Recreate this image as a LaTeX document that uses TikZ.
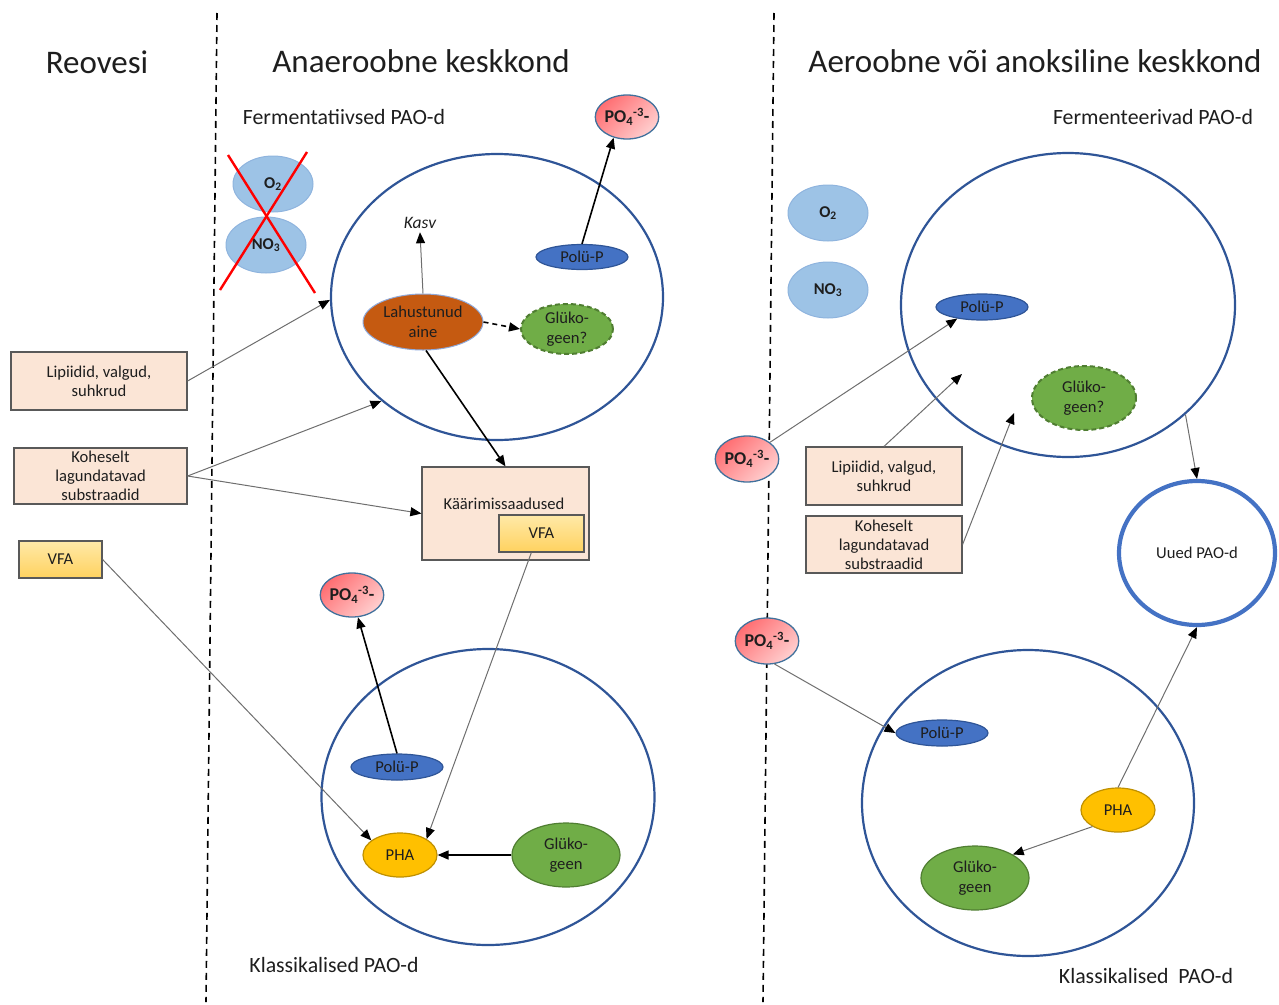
\documentclass[tikz,border=0pt]{standalone}
\usepackage{fontspec}
\setmainfont{Carlito}
\usetikzlibrary{shapes.geometric,arrows.meta}
\definecolor{txt}{HTML}{1E1E1E}
\definecolor{circblue}{HTML}{2F5597}
\definecolor{uuedblue}{HTML}{4472C4}
\definecolor{gasfill}{HTML}{9DC3E6}
\definecolor{gasdraw}{HTML}{8FB4DE}
\definecolor{podraw}{HTML}{41719C}
\definecolor{pored}{HTML}{FF6E72}
\definecolor{popink}{HTML}{FFCFCF}
\definecolor{polufill}{HTML}{4472C4}
\definecolor{glufill}{HTML}{70AD47}
\definecolor{gludraw}{HTML}{507E32}
\definecolor{lahfill}{HTML}{C55A11}
\definecolor{lahdraw}{HTML}{8FAADC}
\definecolor{phafill}{HTML}{FFC000}
\definecolor{phadraw}{HTML}{BF9000}
\definecolor{boxfill}{HTML}{FBE5D6}
\definecolor{boxdraw}{HTML}{595959}
\definecolor{vfatop}{HTML}{FFE9A8}
\definecolor{vfabot}{HTML}{FFD25F}
\definecolor{arrgray}{HTML}{6E6E6E}
\begin{document}
\begin{tikzpicture}[x=1pt,y=-1pt,
  every node/.style={text=txt, font=\fontsize{16.6}{19}\selectfont, align=center},
  title/.style={font=\fontsize{33}{38}\selectfont},
  subtitle/.style={font=\fontsize{21.8}{25}\selectfont},
  cell/.style={ellipse, draw=circblue, line width=2.2, inner sep=0},
  gas/.style={ellipse, fill=gasfill, draw=gasdraw, line width=1, inner sep=0,
    minimum width=80, minimum height=56, font=\bfseries\fontsize{16.5}{18}\selectfont},
  po/.style={ellipse, draw=podraw, line width=1.3, top color=pored, bottom color=popink,
    shading angle=45, inner sep=0, minimum width=56, minimum height=44,
    font=\bfseries\fontsize{18}{20}\selectfont},
  polu/.style={ellipse, fill=polufill, draw=circblue, line width=1.2, inner sep=0,
    minimum width=92, minimum height=25},
  glu/.style={ellipse, fill=glufill, draw=gludraw, line width=1.2, inner sep=0,
    minimum width=108, minimum height=64, font=\fontsize{16.6}{19.5}\selectfont},
  gluq/.style={glu, line width=2, dash pattern=on 5 off 3,
    minimum width=92, minimum height=50},
  pha/.style={ellipse, fill=phafill, draw=phadraw, line width=1.2, inner sep=0,
    minimum width=74, minimum height=44},
  box/.style={rectangle, fill=boxfill, draw=boxdraw, line width=1.2, inner sep=0,
    font=\fontsize{16.6}{19}\selectfont},
  vfabox/.style={rectangle, top color=vfatop, bottom color=vfabot, draw=boxdraw,
    line width=1.2, inner sep=0},
  thinarr/.style={draw=arrgray, line width=1, -{Triangle[length=11,width=9,color=black]}},
  thickarr/.style={draw=black, line width=1.6, -{Triangle[length=11,width=9]}},
  sep/.style={draw=black, line width=1.6, dash pattern=on 7 off 5},
  cross/.style={draw=red, line width=2.4}
]
\useasboundingbox (0,0) rectangle (1279,1004);

% separators
\coordinate (s1t) at (217,13); \coordinate (s1b) at (206,1002);
\coordinate (s2t) at (774,13); \coordinate (s2b) at (763,1002);
\draw[sep] (s1t) -- (s1b);
\draw[sep] (s2t) -- (s2b);

% titles
\node[title] (t1) at (97,62) {Reovesi};
\node[title] (t2) at (421,61) {Anaeroobne keskkond};
\node[title] (t3) at (1035,61) {Aeroobne või anoksiline keskkond};
\node[subtitle] (st1) at (344,117) {Fermentatiivsed PAO-d};
\node[subtitle] (st2) at (1153,117) {Fermenteerivad PAO-d};
\node[subtitle] (st3) at (334,965) {Klassikalised PAO-d};
\node[subtitle] (st4) at (1146,976) {Klassikalised\ \ PAO-d};

% cells
\node[cell, minimum width=332, minimum height=286] (c1) at (497,297) {};
\node[cell, minimum width=333, minimum height=296] (c2) at (488,797) {};
\node[cell, minimum width=334, minimum height=304] (c3) at (1068,305) {};
\node[cell, minimum width=332, minimum height=306] (c4) at (1028,803) {};
\node[ellipse, draw=uuedblue, line width=4.2, inner sep=0, minimum width=156, minimum height=144] (uued) at (1197,553) {Uued PAO-d};

% gases
\node[gas] (o2a) at (273,184) {O\textsubscript{2}};
\node[gas] (no3a) at (266,245) {NO\textsubscript{3}};
\coordinate (x1a) at (228,155); \coordinate (x1b) at (315,293);
\coordinate (x2a) at (307,152); \coordinate (x2b) at (220,290);
\draw[cross] (x1a) -- (x1b);
\draw[cross] (x2a) -- (x2b);
\node[gas] (o2b) at (828,213) {O\textsubscript{2}};
\node[gas] (no3b) at (828,290) {NO\textsubscript{3}};

% phosphate
\node[po] (po1) at (627,117) {PO\textsubscript{4}\textsuperscript{-3}-};
\node[po] (po2) at (352,595) {PO\textsubscript{4}\textsuperscript{-3}-};
\node[po, minimum width=54, minimum height=46] (po3) at (747,459) {PO\textsubscript{4}\textsuperscript{-3}-};
\node[po, minimum width=56, minimum height=46] (po4) at (767,641) {PO\textsubscript{4}\textsuperscript{-3}-};

% poly-P
\node[polu] (pp1) at (582,257) {Polü-P};
\node[polu, minimum height=26] (pp2) at (397,767) {Polü-P};
\node[polu, minimum height=26] (pr1) at (982,307) {Polü-P};
\node[polu, minimum height=26] (pr2) at (942,733) {Polü-P};

% top-left cell contents
\node[ellipse, fill=lahfill, draw=lahdraw, line width=1, inner sep=0,
  minimum width=120, minimum height=56, font=\fontsize{16.6}{20}\selectfont] (lah) at (423,322) {Lahustunud\\aine};
\node[gluq] (gl1) at (567,329) {Glüko-\\geen?};
\node[font=\itshape\fontsize{17.5}{20}\selectfont] (kasv) at (420,223) {Kasv};

% left boxes
\node[box, minimum width=176, minimum height=58] (lip) at (99,381) {Lipiidid, valgud,\\suhkrud};
\node[box, minimum width=173, minimum height=56] (kohe) at (100.5,476) {Koheselt\\lagundatavad\\substraadid};
\node[vfabox, minimum width=83, minimum height=37] (vfa) at (60.5,559.5) {VFA};

% fermentation products
\node[box, minimum width=167, minimum height=93] (kaar) at (505.5,513.5) {};
\node (kaart) at (504,504) {Käärimissaadused};
\node[vfabox, minimum width=85, minimum height=37] (vfa2) at (541.5,533.5) {VFA};

% bottom-left cell contents
\node[pha] (pha1) at (400,855) {PHA};
\node[glu] (gl2) at (566,855) {Glüko-\\geen};

% right side
\node[box, minimum width=156, minimum height=58] (lipr) at (884,476) {Lipiidid, valgud,\\suhkrud};
\node[box, minimum width=156, minimum height=57] (kohr) at (884,544.5) {Koheselt\\lagundatavad\\substraadid};
\node[gluq, minimum width=104, minimum height=64] (glr1) at (1084,398) {Glüko-\\geen?};
\node[pha] (phar) at (1118,810) {PHA};
\node[glu] (glr2) at (975,878) {Glüko-\\geen};
\coordinate (lipend) at (962,374);
\coordinate (kohend) at (1014,413);

% arrows left/anaerobic
\draw[thinarr] (lip.east) -- (c1.181);
\draw[thinarr] (kohe.east) -- (c1.222);
\draw[thinarr] (kohe.east) -- (kaar.west);
\draw[thinarr] (vfa.east) -- (pha1.153);
\draw[thinarr] (vfa2.-118) -- (pha1.31);
\draw[thinarr] (lah.north) -- (kasv.south);
\draw[draw=black, line width=1.6, dash pattern=on 5 off 4, -{Triangle[length=11,width=9]}] (lah.east) -- (gl1.west);
\draw[thickarr] (lah.-84) -- (kaar.north);
\draw[thickarr] (pp1.north) -- (po1.237);
\draw[thickarr] (pp2.north) -- (po2.285);
\draw[thickarr] (gl2.west) -- (pha1.east);

% arrows right/aerobic
\draw[thinarr] (po3.36) -- (pr1.205);
\draw[thinarr] (lipr.north) -- (lipend);
\draw[thinarr] (kohr.east) -- (kohend);
\draw[thinarr] (c3.-43) -- (uued.north);
\draw[thinarr] (phar.north) -- (uued.south);
\draw[thinarr] (phar.213) -- (glr2.32);
\draw[thinarr] (po4.-72) -- (pr2.west);
\end{tikzpicture}
\end{document}
